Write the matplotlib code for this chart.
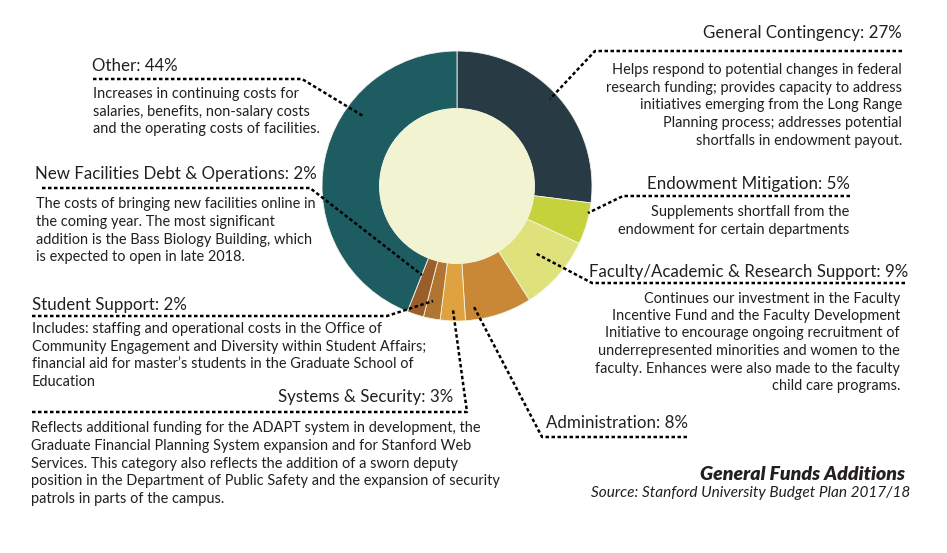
import matplotlib
matplotlib.use("Agg")
import matplotlib.pyplot as plt
from matplotlib.patches import Circle

# ---------------- data ----------------
categories = ["General Contingency", "Endowment Mitigation",
              "Faculty/Academic & Research Support", "Administration",
              "Systems & Security", "Student Support",
              "New Facilities Debt & Operations", "Other"]
values = [27, 5, 9, 8, 3, 2, 2, 44]
colors = ["#283b44", "#c5d23c", "#dfe27a", "#c98835",
          "#e0a23e", "#b07530", "#9a5e2a", "#1d5d62"]

descriptions = {
    "General Contingency": ["Helps respond to potential changes in federal",
                            "research funding; provides capacity to address",
                            "initiatives emerging from the Long Range",
                            "Planning process; addresses potential",
                            "shortfalls in endowment payout."],
    "Endowment Mitigation": ["Supplements shortfall from the",
                             "endowment for certain departments"],
    "Faculty/Academic & Research Support": ["Continues our investment in the Faculty",
                                            "Incentive Fund and the Faculty Development",
                                            "Initiative to encourage ongoing recruitment of",
                                            "underrepresented minorities and women to the",
                                            "faculty. Enhances were also made to the faculty",
                                            "child care programs."],
    "Administration": [],
    "Systems & Security": ["Reflects additional funding for the ADAPT system in development, the",
                           "Graduate Financial Planning System expansion and for Stanford Web",
                           "Services. This category also reflects the addition of a sworn deputy",
                           "position in the Department of Public Safety and the expansion of security",
                           "patrols in parts of the campus."],
    "Student Support": ["Includes: staffing and operational costs in the Office of",
                        "Community Engagement and Diversity within Student Affairs;",
                        "financial aid for master\u2019s students in the Graduate School of",
                        "Education"],
    "New Facilities Debt & Operations": ["The costs of bringing new facilities online in",
                                         "the coming year. The most significant",
                                         "addition is the Bass Biology Building, which",
                                         "is expected to open in late 2018."],
    "Other": ["Increases in continuing costs for",
              "salaries, benefits, non-salary costs",
              "and the operating costs of facilities."],
}

title = "General Funds Additions"
source = "Source: Stanford University Budget Plan 2017/18"

# ---------------- layout (pixel coordinates, y downward) ----------------
W, H = 947, 553
CX, CY, R_OUT, R_IN = 457, 186, 135, 77.5
FONT = "Lato"
TXT = "#231f20"

def Y(y):
    return H - y

layout = {
    "General Contingency": dict(hx=902, hy=33, ha="right", bx=902, by=70, dy=17.7,
                                line=[(902, 51), (595, 51), (550, 99)]),
    "Endowment Mitigation": dict(hx=850, hy=184, ha="right", bx=849, by=212, dy=18.3,
                                 line=[(850, 196), (623, 196), (588, 213)]),
    "Faculty/Academic & Research Support": dict(hx=908, hy=272, ha="right", bx=900, by=298.5, dy=17.5,
                                                line=[(905, 283), (592, 283), (535, 253)]),
    "Administration": dict(hx=546, hy=423, ha="left", bx=546, by=440, dy=17.5,
                           line=[(687, 437), (542, 437), (473, 305)]),
    "Systems & Security": dict(hx=453, hy=397, ha="right", bx=31, by=428, dy=17.8,
                               line=[(32, 412), (467, 412), (453, 310)]),
    "Student Support": dict(hx=32, hy=305, ha="left", bx=32, by=329.5, dy=17.5,
                            line=[(32, 316), (387, 316), (433, 301)]),
    "New Facilities Debt & Operations": dict(hx=35, hy=174, ha="left", bx=36, by=204.3, dy=17.7,
                                             line=[(42, 188), (310, 188), (422, 275)]),
    "Other": dict(hx=92, hy=66, ha="left", bx=93, by=94.3, dy=17.5,
                  line=[(93, 79), (302, 79), (363, 116)]),
}
body_ha = {"Systems & Security": "left"}

fig = plt.figure(figsize=(W / 100, H / 100), dpi=100)
ax = fig.add_axes([0, 0, 1, 1])

ax.pie(values, colors=colors, startangle=90, counterclock=False,
       radius=R_OUT, center=(CX, Y(CY)), frame=True,
       wedgeprops=dict(width=R_OUT - R_IN, edgecolor="#f4f4e8", linewidth=0.6))
ax.add_patch(Circle((CX, Y(CY)), R_IN, facecolor="#f1f3d1", edgecolor="none", zorder=3))

ax.set_xlim(0, W)
ax.set_ylim(0, H)
ax.set_aspect("equal")
ax.axis("off")

for cat, val in zip(categories, values):
    L = layout[cat]
    xs = [p[0] for p in L["line"]]
    ys = [Y(p[1]) for p in L["line"]]
    ax.plot(xs, ys, color="black", lw=1.8, linestyle=(0, (1.4, 1.0)),
            solid_capstyle="butt", dash_capstyle="butt", zorder=5)
    ax.text(L["hx"], Y(L["hy"]), f"{cat}: {val}%", ha=L["ha"], va="center",
            fontsize=12.2, family=FONT, color=TXT)
    bha = body_ha.get(cat, L["ha"])
    for i, line in enumerate(descriptions[cat]):
        ax.text(L["bx"], Y(L["by"] + i * L["dy"]), line, ha=bha, va="center",
                fontsize=10.45, family=FONT, color=TXT)

ax.text(905, Y(475), title, ha="right", va="center", fontsize=14,
        family=FONT, fontweight="heavy", style="italic", color=TXT)
ax.text(910, Y(493), source, ha="right", va="center", fontsize=11.1,
        family=FONT, style="italic", color=TXT)

fig.savefig("out.png", dpi=100)
